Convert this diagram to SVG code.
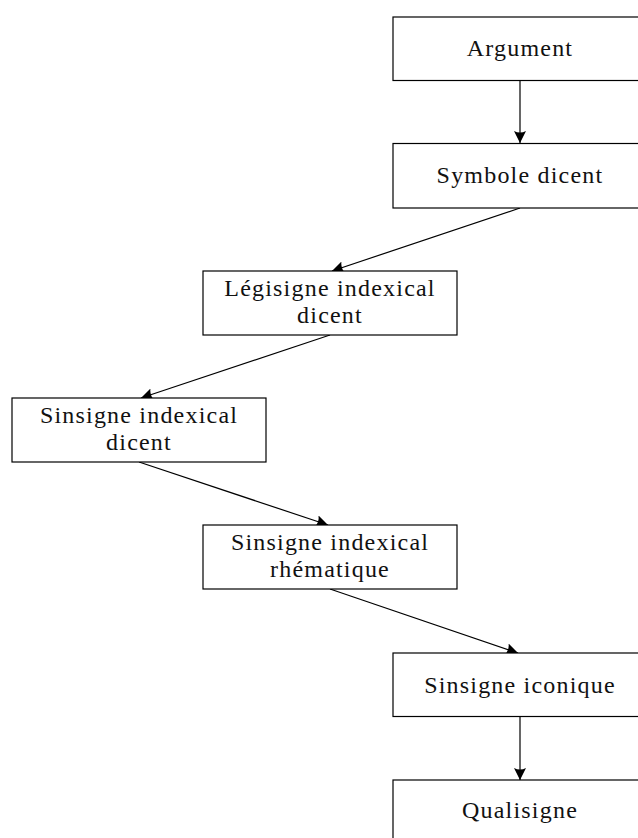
<svg xmlns="http://www.w3.org/2000/svg" width="638" height="838" viewBox="0 0 638 838">
<style>
.box{fill:#fff;stroke:#000;stroke-width:1.2}
.t{font-family:"Liberation Serif","Times New Roman",serif;font-size:24px;letter-spacing:1.2px;fill:#111;text-anchor:middle}
.c{stroke:#000;stroke-width:1.2;fill:none;marker-end:url(#ah)}
</style>
<defs>
<marker id="ah" markerWidth="14" markerHeight="14" viewBox="0 0 14 14" refX="12" refY="7" orient="auto" markerUnits="userSpaceOnUse">
<path d="M0,1 L12,7 L0,13 Q3,7 0,1 Z" fill="#000"/>
</marker>
</defs>
<rect width="638" height="838" fill="#fff"/>
<g id="connectors">
<line class="c" x1="520" y1="81" x2="520" y2="143"/>
<line class="c" x1="520" y1="208" x2="332" y2="271"/>
<line class="c" x1="330" y1="335" x2="141" y2="398"/>
<line class="c" x1="139" y1="462" x2="328" y2="525"/>
<line class="c" x1="330" y1="589" x2="518" y2="653"/>
<line class="c" x1="520" y1="716" x2="520" y2="780"/>
</g>
<g id="argument">
<rect class="box" x="393" y="17" width="254" height="63.5"/>
<text class="t" x="520" y="56">Argument</text>
</g>
<g id="symbole-dicent">
<rect class="box" x="393" y="143.5" width="254" height="64.5"/>
<text class="t" x="520" y="183">Symbole dicent</text>
</g>
<g id="legisigne-indexical-dicent">
<rect class="box" x="203" y="271" width="254" height="64"/>
<text class="t" x="330" y="296">Légisigne indexical</text>
<text class="t" x="330" y="323">dicent</text>
</g>
<g id="sinsigne-indexical-dicent">
<rect class="box" x="12" y="398" width="254" height="64"/>
<text class="t" x="139" y="423">Sinsigne indexical</text>
<text class="t" x="139" y="450">dicent</text>
</g>
<g id="sinsigne-indexical-rhematique">
<rect class="box" x="203" y="525" width="254" height="64"/>
<text class="t" x="330" y="550">Sinsigne indexical</text>
<text class="t" x="330" y="577">rhématique</text>
</g>
<g id="sinsigne-iconique">
<rect class="box" x="393" y="653" width="254" height="63.5"/>
<text class="t" x="520" y="693">Sinsigne iconique</text>
</g>
<g id="qualisigne">
<rect class="box" x="393" y="780" width="254" height="64"/>
<text class="t" x="520" y="818">Qualisigne</text>
</g>
</svg>
